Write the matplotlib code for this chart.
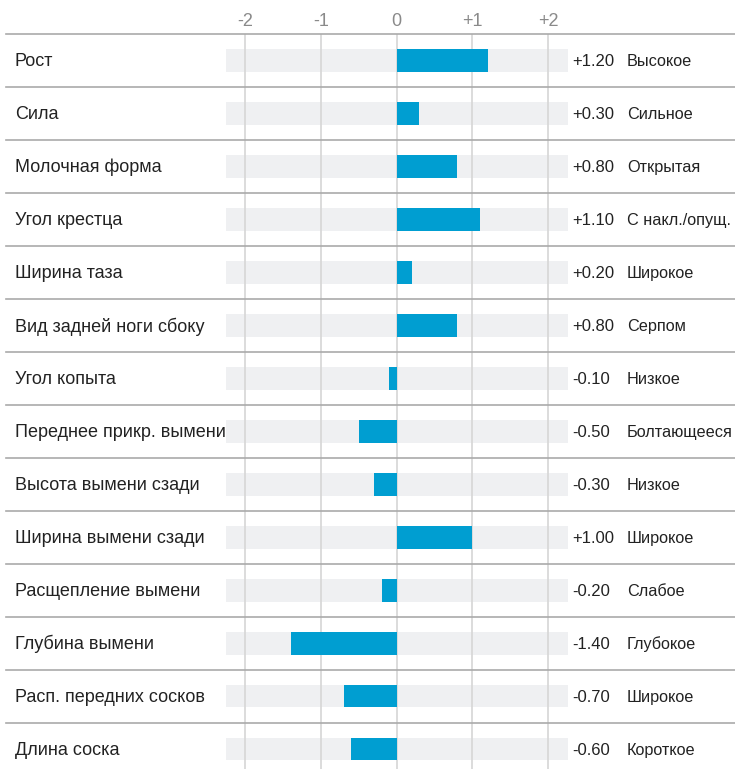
import matplotlib
matplotlib.use('Agg')
import matplotlib.pyplot as plt
from matplotlib import font_manager

# data
traits = ['Рост', 'Сила', 'Молочная форма', 'Угол крестца', 'Ширина таза',
          'Вид задней ноги сбоку', 'Угол копыта', 'Переднее прикр. вымени',
          'Высота вымени сзади', 'Ширина вымени сзади', 'Расщепление вымени',
          'Глубина вымени', 'Расп. передних сосков', 'Длина соска']
values = [1.20, 0.30, 0.80, 1.10, 0.20, 0.80, -0.10, -0.50, -0.30, 1.00,
          -0.20, -1.40, -0.70, -0.60]
meanings = ['Высокое', 'Сильное', 'Открытая', 'С накл./опущ.', 'Широкое',
            'Серпом', 'Низкое', 'Болтающееся', 'Низкое', 'Широкое', 'Слабое',
            'Глубокое', 'Широкое', 'Короткое']
ticks = [-2, -1, 0, 1, 2]
tick_labels = ['-2', '-1', '0', '+1', '+2']
bg_range = 2.26

names = {f.name for f in font_manager.fontManager.ttflist}
fam = 'Liberation Sans Narrow' if 'Liberation Sans Narrow' in names else 'Liberation Sans'
plt.rcParams['font.family'] = [fam, 'DejaVu Sans']

W, H = 735, 769
fig = plt.figure(figsize=(W / 100, H / 100), dpi=100)
ax = fig.add_axes([0, 0, 1, 1])
ax.axis('off')

# pixel geometry
px_unit = 75.7
x0 = 396.7
row_h = 52.95
y0 = 60.7
ax.set_xlim(-x0 / px_unit, (W - x0) / px_unit)
ax.set_ylim((H - y0) / row_h, -y0 / row_h)

n = len(traits)
rows = list(range(n))

ax.barh(rows, [2 * bg_range] * n, left=-bg_range, height=0.43,
        color='#eff0f2', zorder=1)
ax.vlines(ticks, -0.5, n + 1, color='#d6d6d6', lw=1.2, zorder=2)
ax.barh(rows, values, height=0.43, color='#009ed1', zorder=3)

for i in range(n):
    ax.axhline(i - 0.5, xmin=6 / W, xmax=1, color='#aaaaaa', lw=1.2, zorder=4)

ty = (21 - y0) / row_h
for t, lab in zip(ticks, tick_labels):
    ax.text(t, ty, lab, ha='center', va='center', fontsize=13, color='#8a8a8a')

tr = ax.get_yaxis_transform()
for i, (name, v, m) in enumerate(zip(traits, values, meanings)):
    ax.text(15 / W, i + 0.02, name, transform=tr, ha='left', va='center',
            fontsize=13, color='#222222')
    ax.text(572 / W, i + 0.02, f'{v:+.2f}', transform=tr, ha='left', va='center',
            fontsize=12, color='#222222')
    ax.text(627 / W, i + 0.02, m, transform=tr, ha='left', va='center',
            fontsize=11.7, color='#222222')

fig.savefig('out.png', dpi=100)
